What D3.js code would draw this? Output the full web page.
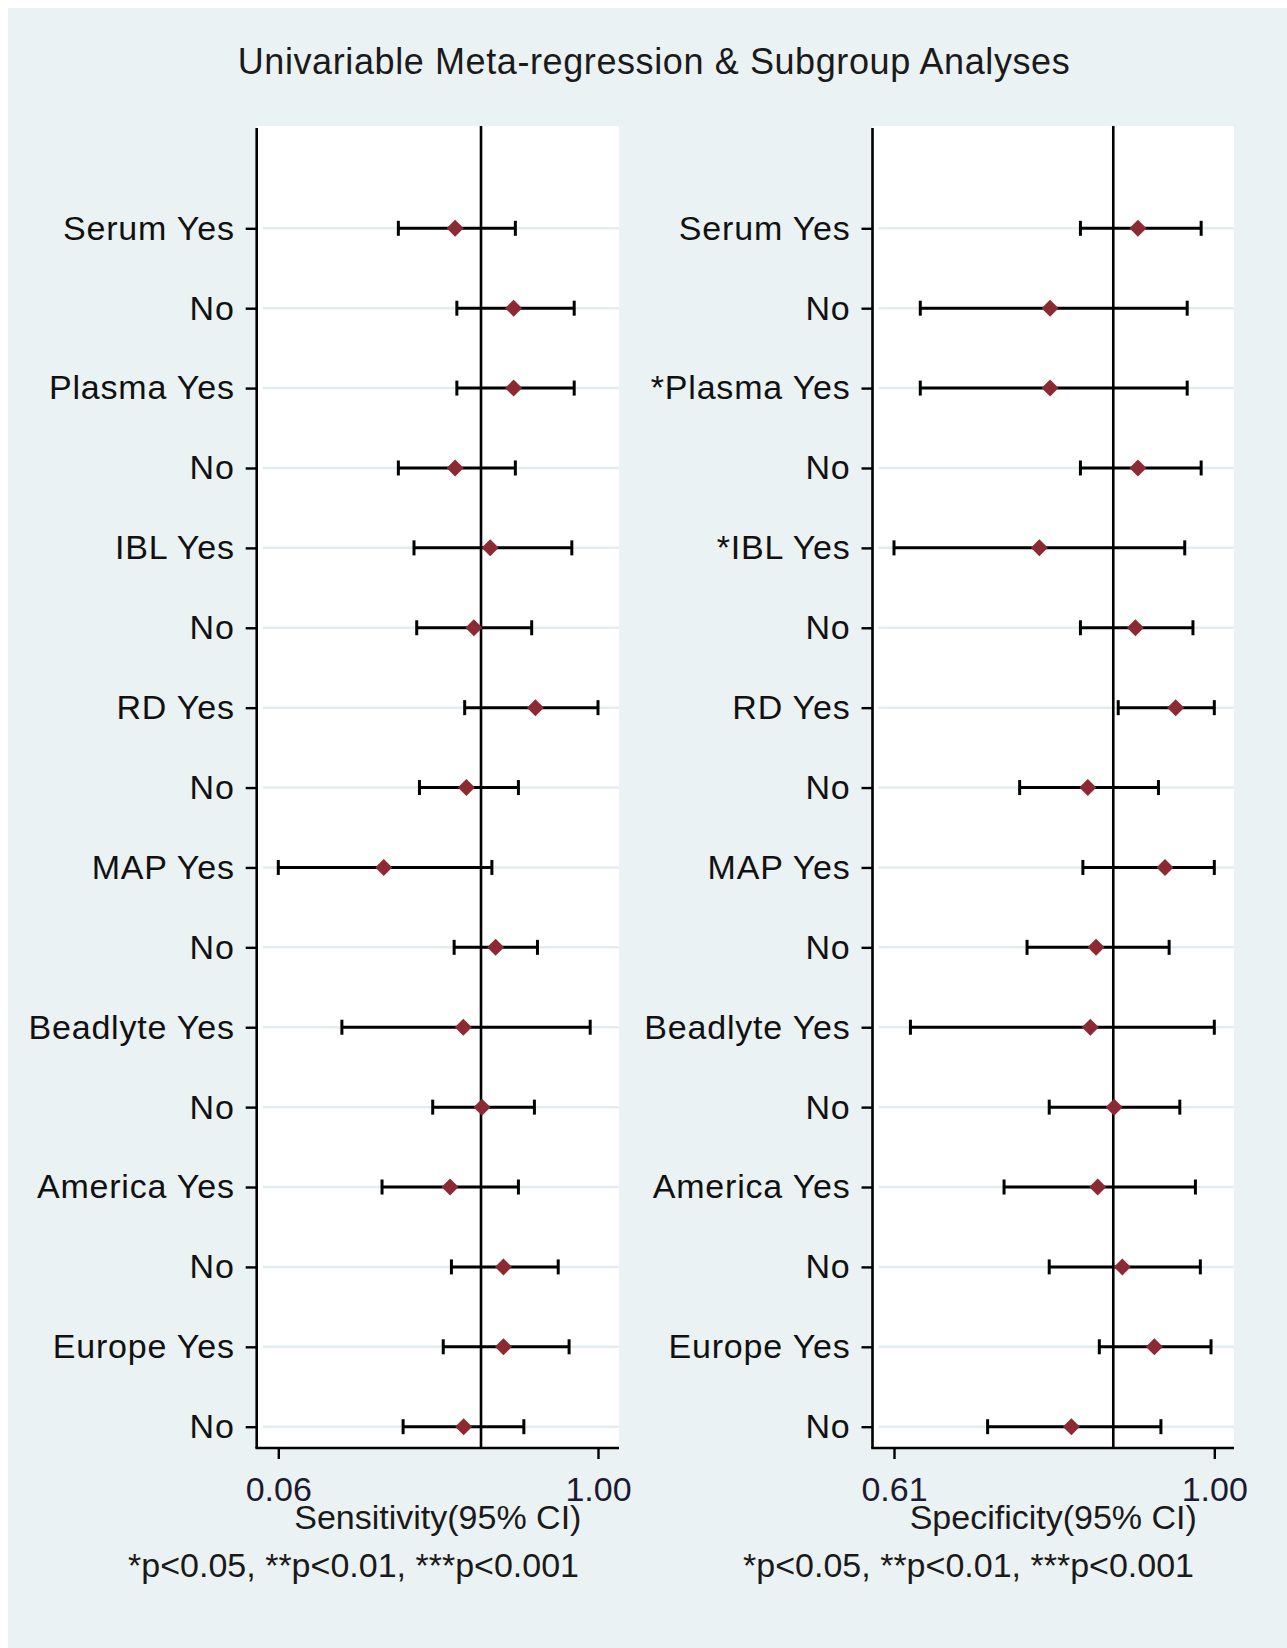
<html>
	<head>
		<meta content="text/html;charset=utf-8" http-equiv="Content-Type">
		<script src="https://d3js.org/d3.v7.min.js"></script>
		<style>
			body { margin: 0; background: #ffffff; }
			svg { display: block; font-family: "Liberation Sans", Arial, sans-serif; }
		</style>
	</head>
	<body>
		<svg id="chart"></svg>
		<script>

			// data
			var rowLabelsSens = ["Serum Yes","No","Plasma Yes","No","IBL Yes","No","RD Yes","No","MAP Yes","No","Beadlyte Yes","No","America Yes","No","Europe Yes","No"];
			var rowLabelsSpec = ["Serum Yes","No","*Plasma Yes","No","*IBL Yes","No","RD Yes","No","MAP Yes","No","Beadlyte Yes","No","America Yes","No","Europe Yes","No"];

			var sensEst = [0.580,0.752,0.752,0.580,0.683,0.635,0.816,0.613,0.370,0.699,0.604,0.659,0.565,0.722,0.722,0.605];
			var sensLow = [0.413,0.585,0.585,0.413,0.459,0.467,0.608,0.475,0.060,0.577,0.247,0.514,0.365,0.569,0.545,0.427];
			var sensHigh = [0.757,0.930,0.930,0.757,0.923,0.805,1.000,0.766,0.688,0.822,0.977,0.813,0.766,0.883,0.915,0.782];

			var specEst = [0.907,0.800,0.800,0.907,0.787,0.904,0.953,0.846,0.940,0.856,0.849,0.878,0.858,0.888,0.927,0.826];
			var specLow = [0.837,0.642,0.642,0.837,0.610,0.837,0.883,0.763,0.840,0.772,0.630,0.799,0.744,0.799,0.860,0.724];
			var specHigh = [0.984,0.967,0.967,0.984,0.964,0.974,1.000,0.932,1.000,0.945,1.000,0.958,0.977,0.983,0.996,0.935];

			var sensPooled = 0.656;
			var specPooled = 0.877;
			var sensTicks = [0.06, 1.00];
			var specTicks = [0.61, 1.00];

			var W = 1287, H = 1648;
			var svg = d3.select("#chart").attr("width", W).attr("height", H);

			// graph region background
			svg.append("rect")
				.attr("x", 8).attr("y", 8)
				.attr("width", W - 8).attr("height", H - 8)
				.attr("fill", "#eaf2f3");

			svg.append("text")
				.attr("x", 654).attr("y", 74)
				.attr("text-anchor", "middle")
				.style("font-size", "36px")
				.style("letter-spacing", "0.6px")
				.attr("fill", "#1a1a1a")
				.text("Univariable Meta-regression & Subgroup Analyses");

			var plotTop = 126, plotBottom = 1448;
			var y = d3.scaleLinear().domain([0, 15]).range([228.3, 1426.7]);

			drawPanel({
				left: 256.7, right: 619,
				domain: [0.06, 1.00], range: [278.3, 598],
				labels: rowLabelsSens, est: sensEst, lo: sensLow, hi: sensHigh,
				pooled: sensPooled, ticks: sensTicks,
				title: "Sensitivity(95% CI)"
			});
			drawPanel({
				left: 872.5, right: 1234,
				domain: [0.61, 1.00], range: [894, 1214.3],
				labels: rowLabelsSpec, est: specEst, lo: specLow, hi: specHigh,
				pooled: specPooled, ticks: specTicks,
				title: "Specificity(95% CI)"
			});

			function drawPanel(c){
				var x = d3.scaleLinear().domain(c.domain).range(c.range);
				var g = svg.append("g");

				// plot region
				g.append("rect")
					.attr("x", c.left).attr("y", plotTop)
					.attr("width", c.right - c.left).attr("height", plotBottom - plotTop)
					.attr("fill", "#ffffff");

				// horizontal grid lines
				g.selectAll(".grid").data(c.labels).enter().append("line")
					.attr("x1", c.left + 6).attr("x2", c.right)
					.attr("y1", function(d, i){ return y(i); })
					.attr("y2", function(d, i){ return y(i); })
					.style("stroke", "#e3edf0")
					.style("stroke-width", 2.5);

				// pooled estimate line
				g.append("line")
					.attr("x1", x(c.pooled)).attr("x2", x(c.pooled))
					.attr("y1", plotTop).attr("y2", plotBottom)
					.style("stroke", "#000")
					.style("stroke-width", 2.6);

				// axes
				var yAxis = d3.axisLeft(y)
					.tickValues(d3.range(c.labels.length))
					.tickFormat(function(i){ return c.labels[i]; })
					.tickSize(11).tickPadding(11);
				var ya = g.append("g").attr("transform", "translate(" + c.left + ",0)").call(yAxis);
				ya.select(".domain").remove();
				ya.selectAll(".tick line").style("stroke", "#000").style("stroke-width", 2.4);
				ya.selectAll(".tick text")
					.style("font-size", "34px")
					.style("letter-spacing", "0.8px")
					.style("font-family", "'Liberation Sans', Arial, sans-serif")
					.attr("fill", "#111");
				g.append("line")
					.attr("x1", c.left).attr("x2", c.left)
					.attr("y1", plotTop + 2).attr("y2", plotBottom)
					.style("stroke", "#000").style("stroke-width", 2.6);

				var xAxis = d3.axisBottom(x)
					.tickValues(c.ticks)
					.tickFormat(d3.format(".2f"))
					.tickSize(11).tickPadding(18);
				var xa = g.append("g").attr("transform", "translate(0," + plotBottom + ")").call(xAxis);
				xa.select(".domain").remove();
				xa.selectAll(".tick line").style("stroke", "#000").style("stroke-width", 2.4);
				xa.selectAll(".tick text")
					.style("font-size", "34px")
					.style("font-family", "'Liberation Sans', Arial, sans-serif")
					.attr("fill", "#1c1a30");
				g.append("line")
					.attr("x1", c.left - 1.3).attr("x2", c.right)
					.attr("y1", plotBottom).attr("y2", plotBottom)
					.style("stroke", "#000").style("stroke-width", 2.6);

				// confidence intervals
				var rows = c.est.map(function(d, i){ return {i: i, e: d, lo: c.lo[i], hi: c.hi[i]}; });
				g.selectAll(".ci").data(rows).enter().append("line")
					.attr("x1", function(d){ return x(d.lo); })
					.attr("x2", function(d){ return x(d.hi); })
					.attr("y1", function(d){ return y(d.i); })
					.attr("y2", function(d){ return y(d.i); })
					.style("stroke", "#000").style("stroke-width", 3);
				["lo", "hi"].forEach(function(k){
					g.selectAll(".cap-" + k).data(rows).enter().append("line")
						.attr("x1", function(d){ return x(d[k]); })
						.attr("x2", function(d){ return x(d[k]); })
						.attr("y1", function(d){ return y(d.i) - 7.5; })
						.attr("y2", function(d){ return y(d.i) + 7.5; })
						.style("stroke", "#000").style("stroke-width", 3);
				});

				// point estimates
				g.selectAll(".pt").data(rows).enter().append("path")
					.attr("transform", function(d){ return "translate(" + x(d.e) + "," + y(d.i) + ")"; })
					.attr("d", "M0,-8.5L8.5,0L0,8.5L-8.5,0Z")
					.attr("fill", "#8c2a33");

				// axis title and note
				g.append("text")
					.attr("x", (c.left + c.right) / 2).attr("y", 1528.7)
					.attr("text-anchor", "middle")
					.style("font-size", "34px")
					.attr("fill", "#1a1a1a")
					.text(c.title);
				g.append("text")
					.attr("x", c.right - 40).attr("y", 1576.7)
					.attr("text-anchor", "end")
					.style("font-size", "34px")
					.attr("fill", "#1a1a1a")
					.text("*p<0.05, **p<0.01, ***p<0.001");
			}

		</script>
	</body>
</html>
